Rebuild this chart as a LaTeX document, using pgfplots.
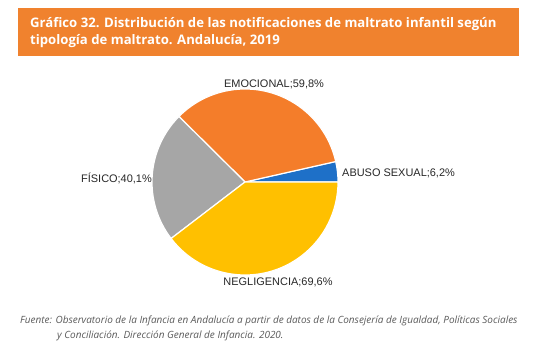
\documentclass[border=0pt]{standalone}
\usepackage{pgfplots}
\pgfplotsset{compat=1.18}
\usepackage{fontspec}
\setmainfont{Liberation Sans}
\newfontfamily\opensans{Open Sans}
\definecolor{hdr}{RGB}{240,130,46}
\definecolor{cEmo}{RGB}{244,125,42}
\definecolor{cAbu}{RGB}{30,112,200}
\definecolor{cFis}{RGB}{166,166,166}
\definecolor{cNeg}{RGB}{255,192,0}
\definecolor{lbl}{RGB}{40,40,40}
\definecolor{foot}{RGB}{90,90,90}
% data (percent of notifications by type)
\def\vAbu{6.2}
\def\vEmo{59.8}
\def\vFis{40.1}
\def\vNeg{69.6}
\begin{document}
\begin{tikzpicture}
\fill[white] (0,0) rectangle (538bp,364bp);
\begin{axis}[at={(0,0)},anchor=south west,width=538bp,height=364bp,scale only axis,
  xmin=0,xmax=538,ymin=0,ymax=364,hide axis,clip=false]
% header
\fill[hdr] (axis cs:18,364-8) rectangle (axis cs:519,364-56);
\node[anchor=north west,align=left,text=white,font=\opensans\bfseries\fontsize{13.2}{17.5}\selectfont,inner sep=0pt]
  at (axis cs:30,364-17) {Gráfico 32. Distribución de las notificaciones de maltrato infantil según\\tipología de maltrato. Andalucía, 2019};
% pie
\pgfmathsetmacro{\tot}{\vAbu+\vEmo+\vFis+\vNeg}
\pgfmathsetmacro{\aA}{\vAbu/\tot*360}
\pgfmathsetmacro{\aB}{\aA+\vEmo/\tot*360}
\pgfmathsetmacro{\aC}{\aB+\vFis/\tot*360}
\def\R{93bp}
\coordinate (c) at (axis cs:245,364-182);
\filldraw[fill=cAbu,draw=white,line width=1.2pt] (c) -- ++(0:\R) arc[start angle=0,end angle=\aA,radius=\R] -- cycle;
\filldraw[fill=cEmo,draw=white,line width=1.2pt] (c) -- ++(\aA:\R) arc[start angle=\aA,end angle=\aB,radius=\R] -- cycle;
\filldraw[fill=cFis,draw=white,line width=1.2pt] (c) -- ++(\aB:\R) arc[start angle=\aB,end angle=\aC,radius=\R] -- cycle;
\filldraw[fill=cNeg,draw=white,line width=1.2pt] (c) -- ++(\aC:\R) arc[start angle=\aC,end angle=360,radius=\R] -- cycle;
% labels
\tikzset{lb/.style={text=lbl,font=\fontsize{11}{13}\selectfont,inner sep=0pt}}
\node[lb,anchor=center] at (axis cs:274,364-84) {EMOCIONAL;59,8\%};
\node[lb,anchor=west] at (axis cs:342,364-173) {ABUSO SEXUAL;6,2\%};
\node[lb,anchor=east] at (axis cs:152,364-178) {FÍSICO;40,1\%};
\node[lb,anchor=center] at (axis cs:278,364-282) {NEGLIGENCIA;69,6\%};
% footnote
\node[anchor=west,text=foot,font=\opensans\itshape\fontsize{10}{12}\selectfont,inner sep=0pt] at (axis cs:20,364-321) {Fuente: Observatorio de la Infancia en Andalucía a partir de datos de la Consejería de Igualdad, Políticas Sociales};
\node[anchor=west,text=foot,font=\opensans\itshape\fontsize{10}{12}\selectfont,inner sep=0pt] at (axis cs:57,364-336) {y Conciliación. Dirección General de Infancia. 2020.};
\end{axis}
\end{tikzpicture}
\end{document}
